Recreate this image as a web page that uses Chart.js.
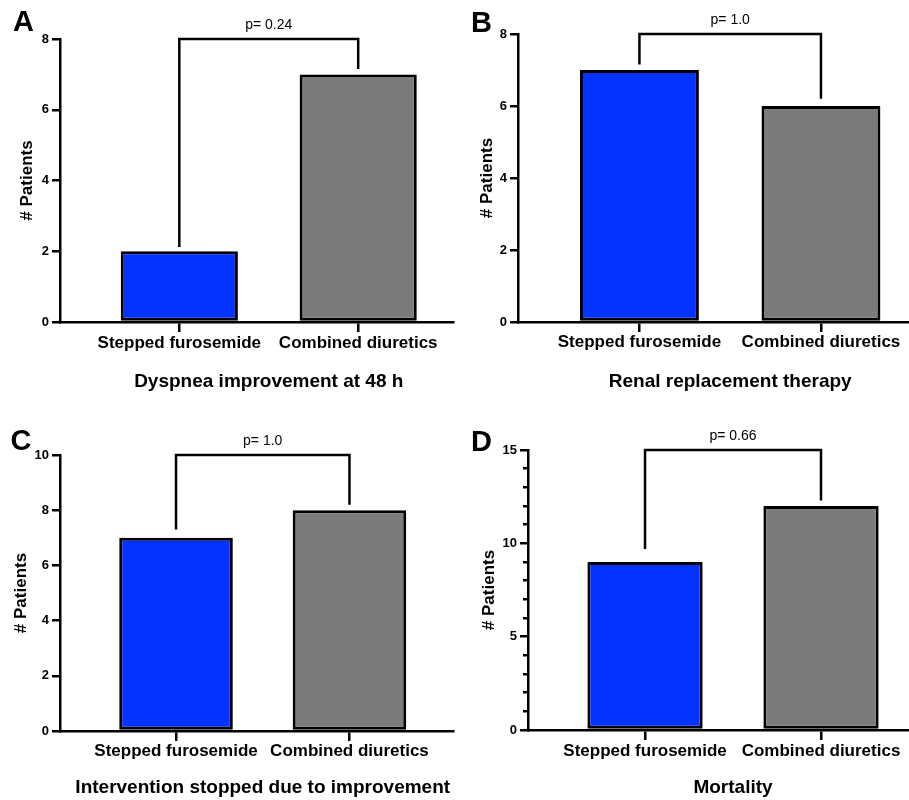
<!DOCTYPE html>
<html>
<head>
<meta charset="utf-8">
<script src="https://cdn.jsdelivr.net/npm/chart.js@4.4.1/dist/chart.umd.min.js"></script>
<style>
html, body { margin: 0; padding: 0; background: #fff; }
#wrap { position: relative; width: 909px; height: 800px; overflow: hidden; background: #fff; }
#wrap canvas { position: absolute; }
</style>
</head>
<body>
<div id="wrap"></div>
<script>
// ---- data ----
const categories = ['Stepped furosemide', 'Combined diuretics'];
const panelLetters = ['A', 'B', 'C', 'D'];
const outcomeTitles = ['Dyspnea improvement at 48 h', 'Renal replacement therapy', 'Intervention stopped due to improvement', 'Mortality'];
const steppedFurosemide = [2, 7, 7, 9];
const combinedDiuretics = [7, 6, 8, 12];
const pValueLabels = ['p= 0.24', 'p= 1.0', 'p= 1.0', 'p= 0.66'];
const yAxisMax = [8, 8, 10, 15];
const yMajorStep = [2, 2, 2, 5];
const yMinorStep = [2, 2, 2, 1];
const bracketTop = [8, 8, 10, 15];
const bracketSteppedEnd = [2.12, 7.15, 7.3, 9.7];
const bracketCombinedEnd = [7.15, 6.2, 8.2, 12.3];
const yAxisTitle = '# Patients';

// ---- layout (positions / sizes) ----
const FONT = '"Liberation Sans", Arial, Helvetica, sans-serif';
const panelLayout = [
  { canvas: [0, 0, 455, 400],   area: { l: 60, t: 39, r: 453, b: 322 }, xMin: 0.333, xMax: 2.53,  letter: [13, 23],   yTitleX: 27,   xTitleY: 382, xTickY: 343 },
  { canvas: [455, 0, 454, 400], area: { l: 63, t: 34, r: 454, b: 322 }, xMin: 0.331, xMax: 2.485, letter: [16, 24],   yTitleX: 32,   xTitleY: 382, xTickY: 342.5 },
  { canvas: [0, 400, 455, 400], area: { l: 60, t: 55, r: 453, b: 331 }, xMin: 0.331, xMax: 2.597, letter: [10.5, 42], yTitleX: 21.5, xTitleY: 388, xTickY: 351 },
  { canvas: [455, 400, 454, 400], area: { l: 73, t: 50, r: 454, b: 330 }, xMin: 0.335, xMax: 2.5, letter: [16, 43],   yTitleX: 34,   xTitleY: 388, xTickY: 351 }
];
const AXIS_W = 2.5;

Chart.defaults.font.family = FONT;
Chart.defaults.color = '#000';

function annotationPlugin(i) {
  const L = panelLayout[i];
  return {
    id: 'panelAnnotations' + i,
    afterDraw(chart) {
      const ctx = chart.ctx;
      const x = chart.scales.x, y = chart.scales.y;
      const x1 = x.getPixelForValue(1), x2 = x.getPixelForValue(2);
      const yTop = y.getPixelForValue(bracketTop[i]);
      ctx.save();
      ctx.strokeStyle = '#000';
      ctx.lineWidth = 2.5;
      ctx.lineJoin = 'miter';
      ctx.beginPath();
      ctx.moveTo(x1, y.getPixelForValue(bracketSteppedEnd[i]));
      ctx.lineTo(x1, yTop);
      ctx.lineTo(x2, yTop);
      ctx.lineTo(x2, y.getPixelForValue(bracketCombinedEnd[i]));
      ctx.stroke();
      ctx.fillStyle = '#000';
      ctx.textAlign = 'center';
      ctx.textBaseline = 'middle';
      ctx.font = '14px ' + FONT;
      ctx.fillText(pValueLabels[i], (x1 + x2) / 2, yTop - 14);
      ctx.font = 'bold 19px ' + FONT;
      ctx.fillText(outcomeTitles[i], x.getPixelForValue(1.5), L.xTitleY);
      ctx.font = 'bold 29px ' + FONT;
      ctx.textAlign = 'left';
      ctx.fillText(panelLetters[i], L.letter[0], L.letter[1]);
      ctx.restore();
    }
  };
}

function makePanel(i) {
  const L = panelLayout[i];
  const [cx, cy, W, H] = L.canvas;
  const canvas = document.createElement('canvas');
  canvas.width = W; canvas.height = H;
  canvas.style.left = cx + 'px'; canvas.style.top = cy + 'px';
  canvas.style.width = W + 'px'; canvas.style.height = H + 'px';
  document.getElementById('wrap').appendChild(canvas);
  const tickLenX = 10, tickLenY = 8;
  const major = yMajorStep[i];
  new Chart(canvas, {
    type: 'bar',
    data: {
      datasets: [{
        data: [steppedFurosemide[i], combinedDiuretics[i]].map((v, k) => ({ x: k + 1, y: v })),
        backgroundColor: ['#0433ff', '#7b7b7b'],
        borderColor: '#000',
        borderWidth: 3,
        borderSkipped: false,
        barPercentage: 0.655,
        categoryPercentage: 1
      }]
    },
    options: {
      responsive: false,
      animation: false,
      devicePixelRatio: 1,
      layout: { padding: { left: 0, top: L.area.t, right: W - L.area.r, bottom: 0 } },
      plugins: { legend: { display: false }, tooltip: { enabled: false }, title: { display: false } },
      scales: {
        x: {
          type: 'linear',
          min: L.xMin, max: L.xMax,
          offset: false,
          afterBuildTicks: s => { s.ticks = categories.map((c, k) => ({ value: k + 1 })); },
          afterFit: s => { s.height = H - L.area.b; s.paddingLeft = 0; s.paddingRight = 0; },
          ticks: {
            autoSkip: false, maxRotation: 0, minRotation: 0,
            padding: L.xTickY - L.area.b - tickLenX - 10.2,
            color: '#000',
            font: { size: 17, weight: 'bold' },
            callback: v => categories[Math.round(v) - 1] || ''
          },
          grid: { display: true, drawOnChartArea: false, drawTicks: true, tickLength: tickLenX, color: '#000', lineWidth: AXIS_W, offset: false },
          border: { display: true, color: '#000', width: AXIS_W },
          title: { display: false }
        },
        y: {
          min: 0, max: yAxisMax[i],
          afterFit: s => { s.width = L.area.l; s.paddingTop = 0; s.paddingBottom = 0; },
          ticks: {
            stepSize: yMinorStep[i],
            maxTicksLimit: 30,
            autoSkip: false,
            padding: 3,
            color: '#000',
            font: { size: 13, weight: 'bold' },
            callback: v => (v % major === 0 ? String(v) : '')
          },
          grid: {
            drawOnChartArea: false, drawTicks: true, tickLength: tickLenY, color: '#000', lineWidth: AXIS_W,
            tickBorderDash: c => (c.tick && c.tick.value % major !== 0 ? [0, 3, 20] : [])
          },
          border: { display: true, color: '#000', width: AXIS_W },
          title: {
            display: true, text: yAxisTitle, color: '#000',
            font: { size: 17, weight: 'bold' },
            padding: { top: L.yTitleX - 10.2, bottom: 0 }
          }
        }
      }
    },
    plugins: [annotationPlugin(i)]
  });
}

for (let i = 0; i < 4; i++) makePanel(i);
</script>
</body>
</html>
